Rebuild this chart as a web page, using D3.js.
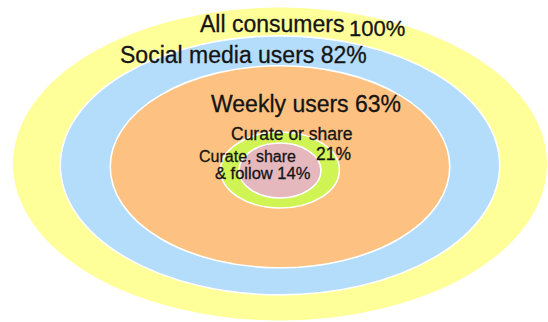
<!DOCTYPE html>
<html lang="en">
<head>
  <meta charset="UTF-8">
  <title>Nested audience ellipses</title>
  <style>
    body { margin: 0; background: #fff; }
    svg { display: block; }
    .label {
      font-family: "Liberation Sans", Arial, sans-serif;
      fill: #141414;
      stroke: #141414;
      stroke-width: 0.3px;
    }
  </style>
  <script src="https://d3js.org/d3.v7.min.js"></script>
</head>
<body>
  <svg id="chart" width="548" height="322"></svg>
  <script>
    const width = 548;
    const height = 322;

    // Data: audience groups, share of all consumers (%)
    const groups = ["All consumers", "Social media users", "Weekly users", "Curate or share", "Curate, share & follow"];
    const shares = [100, 82, 63, 21, 14];
    const colors = ["#ffff99", "#b4ddfb", "#fdc181", "#d0f454", "#e5b8be"];

    // Scales: size of each ellipse follows its share
    const rx = d3.scaleLinear().domain([14, 100]).range([41, 267]);
    const ry = d3.scaleLinear().domain([14, 100]).range([27.5, 156.5]);
    const cy = d3.scaleLinear().domain([14, 100]).range([170.5, 164]);
    const cx = 280;

    const svg = d3.select("#chart");

    const rows = shares.map((v, i) => ({ name: groups[i], value: v, color: colors[i] }));

    svg.append("g").selectAll("ellipse")
      .data(rows)
      .enter().append("ellipse")
      .attr("cx", cx)
      .attr("cy", d => cy(d.value))
      .attr("rx", d => rx(d.value))
      .attr("ry", d => ry(d.value))
      .attr("fill", d => d.color)
      .attr("stroke", d => d.value === 100 ? "none" : "#fff")
      .attr("stroke-width", 1.6);

    // Label lines (text is built from the arrays above)
    const labels = [
      { text: groups[0], x: 200, y: 32, size: 23 },
      { text: shares[0] + "%", x: 349, y: 35.5, size: 22 },
      { text: groups[1] + " " + shares[1] + "%", x: 120, y: 63, size: 23 },
      { text: groups[2] + " " + shares[2] + "%", x: 211, y: 111.5, size: 23 },
      { text: groups[3], x: 231, y: 140, size: 17.5 },
      { text: shares[3] + "%", x: 316, y: 159.5, size: 17.5 },
      { text: "Curate, share", x: 199, y: 161.5, size: 16 },
      { text: "& follow " + shares[4] + "%", x: 215, y: 179, size: 16.5 }
    ];

    svg.append("g").selectAll("text")
      .data(labels)
      .enter().append("text")
      .attr("class", "label")
      .attr("x", d => d.x)
      .attr("y", d => d.y)
      .style("font-size", d => d.size + "px")
      .text(d => d.text);
  </script>
</body>
</html>
